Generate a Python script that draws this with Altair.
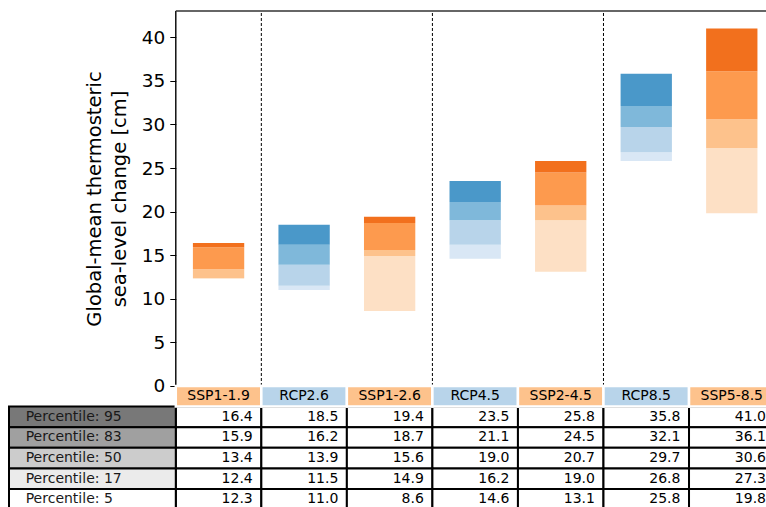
import altair as alt
import pandas as pd

# ---- data ---------------------------------------------------------------
scenarios = ["SSP1-1.9", "RCP2.6", "SSP1-2.6", "RCP4.5", "SSP2-4.5", "RCP8.5", "SSP5-8.5"]
percentiles = [95, 83, 50, 17, 5]
p95 = [16.4, 18.5, 19.4, 23.5, 25.8, 35.8, 41.0]
p83 = [15.9, 16.2, 18.7, 21.1, 24.5, 32.1, 36.1]
p50 = [13.4, 13.9, 15.6, 19.0, 20.7, 29.7, 30.6]
p17 = [12.4, 11.5, 14.9, 16.2, 19.0, 26.8, 27.3]
p5 = [12.3, 11.0, 8.6, 14.6, 13.1, 25.8, 19.8]
group_breaks = [1, 3, 5]          # dashed separators between scenario pairs
y_ticks = [0, 5, 10, 15, 20, 25, 30, 35, 40]

# ---- styling ------------------------------------------------------------
ORANGES = ["#fde0c5", "#fdc28c", "#fd9a4e", "#f2701d"]   # 5-17, 17-50, 50-83, 83-95
BLUES = ["#d9e7f5", "#b8d4ea", "#7fb8da", "#4a98c9"]
HEADER_FILL = {"SSP": "#fdc28c", "RCP": "#b8d4ea"}
ROW_FILL = ["#787878", "#a0a0a0", "#cccccc", "#ebebeb", "#ffffff"]
FONT = "DejaVu Sans"

W, H = 757, 496
PAD_L, PAD_T = 9, 11
X_MIN, X_MAX = -1.95, 6.9            # columns; the row-label column sits left of 0
Y_MIN, Y_MAX = -13.88, 43.01         # cm; the table hangs below zero
ROW_MIN, ROW_MAX = -5.874, 18.204    # table rows, same pixel span as the cm scale
px_per_col = W / (X_MAX - X_MIN)
px_per_cm = H / (Y_MAX - Y_MIN)

# ---- derived tables -----------------------------------------------------
levels = [p5, p17, p50, p83, p95]
bars = []
for i, s in enumerate(scenarios):
    pal = ORANGES if s.startswith("SSP") else BLUES
    for k in range(4):
        bars.append({"scenario": s, "x0": i + 0.2, "x1": i + 0.8,
                     "lo": levels[k][i], "hi": levels[k + 1][i], "color": pal[k]})
bars = pd.DataFrame(bars)

header = pd.DataFrame([{"scenario": s, "x0": i, "x1": i + 1, "xc": i + 0.5,
                        "y0": 0, "y1": -1, "yc": -0.5,
                        "fill": HEADER_FILL[s[:3]]} for i, s in enumerate(scenarios)])

values_by_pct = [p95, p83, p50, p17, p5]
cells = []
for r, vals in enumerate(values_by_pct):
    for i, v in enumerate(vals):
        cells.append({"x0": i, "x1": i + 1, "y0": -(r + 1), "y1": -(r + 2),
                      "yc": -(r + 1.5), "value": v})
cells = pd.DataFrame(cells)

row_labels = pd.DataFrame([{"x0": X_MIN, "x1": 0, "y0": -(r + 1), "y1": -(r + 2),
                            "yc": -(r + 1.5), "label": f"Percentile: {p}",
                            "fill": ROW_FILL[r]} for r, p in enumerate(percentiles)])

separators = pd.DataFrame({"x": group_breaks, "y0": 0.0, "y1": Y_MAX})
frame = pd.DataFrame({"x0": [0.0, 0.0], "x1": [0.0, X_MAX],
                      "y0": [0.0, Y_MAX], "y1": [Y_MAX, Y_MAX],
                      "color": ["black", "#333333"]})

# ---- scales -------------------------------------------------------------
xs = alt.Scale(domain=[X_MIN, X_MAX], nice=False, zero=False)
ys = alt.Scale(domain=[Y_MIN, Y_MAX], nice=False, zero=False)
rs = alt.Scale(domain=[ROW_MIN, ROW_MAX], nice=False, zero=False)

y_axis = alt.Axis(
    values=y_ticks, grid=False, domain=False,
    tickColor="black", tickSize=6, tickWidth=1,
    labelFont=FONT, labelFontSize=18.5, labelColor="black", labelPadding=5,
    title=["Global-mean thermosteric", "sea-level change [cm]"],
    titleFont=FONT, titleFontSize=19.5, titleFontWeight="normal", titleColor="black",
    titlePadding=12, titleLineHeight=25,
    titleY=Y_MAX * px_per_cm / 2,     # centred on the 0..top span of the bar panel
    offset=X_MIN * px_per_col,
)

# ---- percentile bars ----------------------------------------------------
bar_marks = alt.Chart(bars).mark_rect().encode(
    x=alt.X("x0:Q", scale=xs, axis=None),
    x2="x1:Q",
    y=alt.Y("lo:Q", scale=ys, axis=y_axis),
    y2="hi:Q",
    color=alt.Color("color:N", scale=None),
)

dashed = alt.Chart(separators).mark_rule(color="black", strokeWidth=1, strokeDash=[3, 2]).encode(
    x=alt.X("x:Q", scale=xs, axis=None),
    y=alt.Y("y0:Q", scale=ys, axis=None),
    y2="y1:Q",
)

spines = alt.Chart(frame).mark_rule(strokeWidth=1.4).encode(
    x=alt.X("x0:Q", scale=xs, axis=None), x2="x1:Q",
    y=alt.Y("y0:Q", scale=ys, axis=None), y2="y1:Q",
    color=alt.Color("color:N", scale=None),
)

# ---- percentile table ---------------------------------------------------
header_cells = alt.Chart(header).mark_rect(stroke="white", strokeWidth=2.5).encode(
    x=alt.X("x0:Q", scale=xs, axis=None), x2="x1:Q",
    y=alt.Y("y0:Q", scale=rs, axis=None), y2="y1:Q",
    fill=alt.Fill("fill:N", scale=None),
)
header_text = alt.Chart(header).mark_text(font=FONT, fontSize=14, color="black",
                                          align="center", baseline="middle").encode(
    x=alt.X("xc:Q", scale=xs, axis=None),
    y=alt.Y("yc:Q", scale=rs, axis=None),
    text="scenario:N",
)

body_cells = alt.Chart(cells).mark_rect(fill="white", stroke="black", strokeWidth=2).encode(
    x=alt.X("x0:Q", scale=xs, axis=None), x2="x1:Q",
    y=alt.Y("y0:Q", scale=rs, axis=None), y2="y1:Q",
)
body_text = alt.Chart(cells).mark_text(font=FONT, fontSize=14, color="black",
                                       align="right", baseline="middle",
                                       dx=-0.1 * px_per_col).encode(
    x=alt.X("x1:Q", scale=xs, axis=None),
    y=alt.Y("yc:Q", scale=rs, axis=None),
    text=alt.Text("value:Q", format=".1f"),
)

label_cells = alt.Chart(row_labels).mark_rect(stroke="black", strokeWidth=2).encode(
    x=alt.X("x0:Q", scale=xs, axis=None), x2="x1:Q",
    y=alt.Y("y0:Q", scale=rs, axis=None), y2="y1:Q",
    fill=alt.Fill("fill:N", scale=None),
)
label_text = alt.Chart(row_labels).mark_text(font=FONT, fontSize=14, color="#1a1a1a",
                                             align="left", baseline="middle",
                                             dx=-0.1 * X_MIN * px_per_col).encode(
    x=alt.X("x0:Q", scale=xs, axis=None),
    y=alt.Y("yc:Q", scale=rs, axis=None),
    text="label:N",
)

chart = (
    alt.layer(bar_marks, dashed, spines,
              body_cells, label_cells, header_cells,
              body_text, label_text, header_text)
    .resolve_scale(y="independent")
    .properties(
        width=W, height=H,
        padding={"left": PAD_L, "top": PAD_T, "right": 0, "bottom": 0},
        autosize=alt.AutoSizeParams(type="none"),
        background="white",
    )
    .configure_view(strokeWidth=0)
)

chart.save("out.html", embed_options={"renderer": "svg", "actions": False})
